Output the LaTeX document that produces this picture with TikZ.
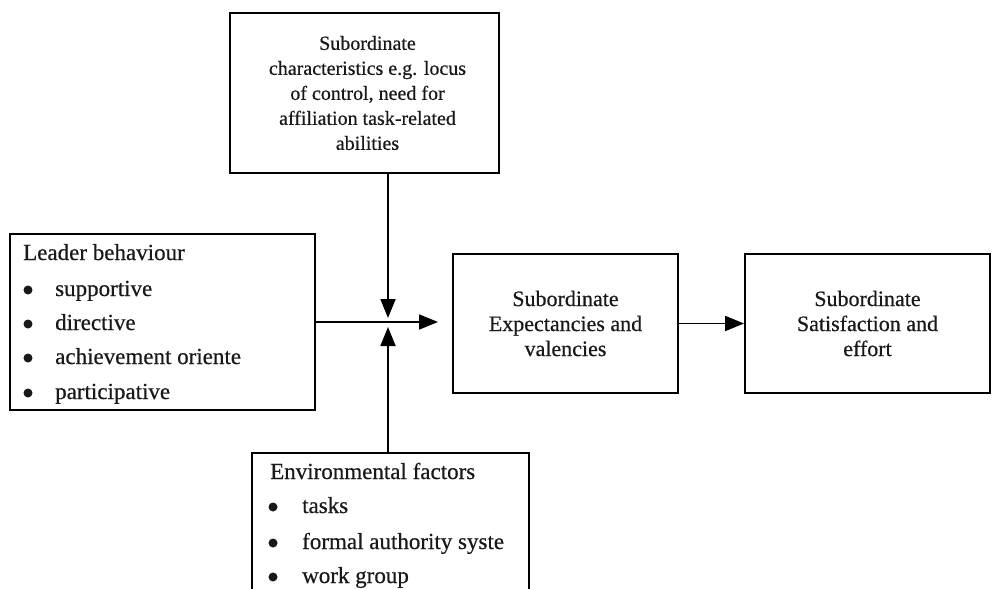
\documentclass[tikz,border=0pt]{standalone}
\usepackage{fontspec}
\setmainfont{Liberation Serif}[FakeBold=0.5]
\usetikzlibrary{arrows.meta}
\begin{document}
\begin{tikzpicture}[x=1pt,y=-1pt,
  box/.style={draw=black, line width=1.8pt, inner sep=0pt},
  arr/.style={draw=black, line width=1.8pt, -{Triangle[length=19pt,width=15pt]}},
  txt/.style={font=\fontsize{22}{25}\selectfont, inner sep=0pt, text=black!90},
  toptxt/.style={txt, font=\fontsize{20}{25}\selectfont},
  listtxt/.style={txt, font=\fontsize{23}{25}\selectfont, anchor=base west},
  dot/.style={circle, fill=black!90, inner sep=0pt, minimum size=9pt}]
\clip (0,0) rectangle (996,589);
\fill[white] (0,0) rectangle (996,589);

% boxes
\node[box, minimum width=269pt, minimum height=160pt] (top)  at (364.5,93)   {};
\node[box, minimum width=305pt, minimum height=176pt] (lead) at (162.5,322)  {};
\node[box, minimum width=277pt, minimum height=167pt] (env)  at (390.5,536.5) {};
\node[box, minimum width=225pt, minimum height=139pt] (mid)  at (565.5,323.5) {};
\node[box, minimum width=245pt, minimum height=139pt] (sat)  at (867.5,323.5) {};

% centred texts
\node[toptxt, align=center] (toptext) at ([xshift=3pt]top.center)
  {Subordinate\\characteristics e.g. locus\\of control, need for\\affiliation task-related\\abilities};
\node[txt, align=center] (midtext) at (mid.center)
  {Subordinate\\Expectancies and\\valencies};
\node[txt, align=center] (sattext) at (sat.center)
  {Subordinate\\Satisfaction and\\effort};

% leader behaviour list
\node[listtxt] (leadtitle) at (23,260) {Leader behaviour};
\node[dot] (lb1) at (28,290) {};
\node[dot] (lb2) at (28,324) {};
\node[dot] (lb3) at (28,358) {};
\node[dot] (lb4) at (28,393) {};
\node[listtxt] (li1) at (55,296) {supportive};
\node[listtxt] (li2) at (55,330) {directive};
\node[listtxt] (li3) at (55,364) {achievement oriente};
\node[listtxt] (li4) at (55,399) {participative};

% environmental factors list
\node[listtxt] (envtitle) at (270,479) {Environmental factors};
\node[dot] (eb1) at (273,507) {};
\node[dot] (eb2) at (273,543) {};
\node[dot] (eb3) at (273,577) {};
\node[listtxt] (ei1) at (302,513) {tasks};
\node[listtxt] (ei2) at (302,549) {formal authority syste};
\node[listtxt] (ei3) at (302,583) {work group};

% junction points of the arrows
\coordinate (jn) at (388,318);
\coordinate (js) at (388,327);
\coordinate (je) at (438,322);

% connectors
\draw[arr] (top.south -| jn) -- (jn);
\draw[arr] (env.north -| js) -- (js);
\draw[arr] (lead.east |- je) -- (je);
\draw[arr] (mid.east) -- (sat.west);
\end{tikzpicture}
\end{document}
